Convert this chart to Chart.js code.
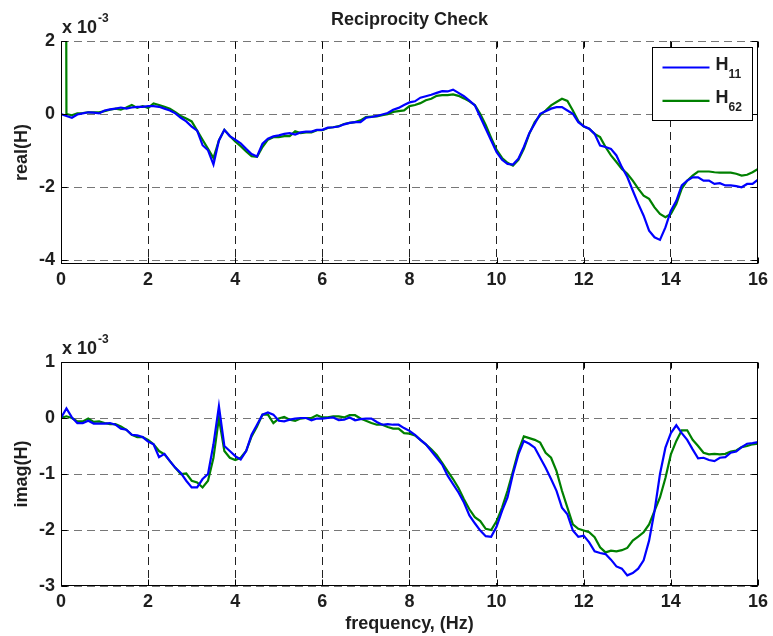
<!DOCTYPE html>
<html>
<head>
<meta charset="utf-8">
<script src="https://cdn.jsdelivr.net/npm/chart.js@4.4.1/dist/chart.umd.min.js"></script>
<style>
  html, body { margin: 0; padding: 0; background: #fff; }
  #wrap { position: relative; width: 773px; height: 636px; }
  canvas { position: absolute; left: 0; }
  #real { top: 0; }
  #imag { top: 300px; }
</style>
</head>
<body>
<div id="wrap">
  <canvas id="real" width="773" height="300"></canvas>
  <canvas id="imag" width="773" height="336"></canvas>
</div>
<script>
// frequency axis, Hz
const freq = [
  0, 0.125, 0.25, 0.375, 0.5, 0.625, 0.75, 0.875,
  1, 1.125, 1.25, 1.375, 1.5, 1.625, 1.75, 1.875,
  2, 2.125, 2.25, 2.375, 2.5, 2.625, 2.75, 2.875,
  3, 3.125, 3.25, 3.375, 3.5, 3.625, 3.75, 3.875,
  4, 4.125, 4.25, 4.375, 4.5, 4.625, 4.75, 4.875,
  5, 5.125, 5.25, 5.375, 5.5, 5.625, 5.75, 5.875,
  6, 6.125, 6.25, 6.375, 6.5, 6.625, 6.75, 6.875,
  7, 7.125, 7.25, 7.375, 7.5, 7.625, 7.75, 7.875,
  8, 8.125, 8.25, 8.375, 8.5, 8.625, 8.75, 8.875,
  9, 9.125, 9.25, 9.375, 9.5, 9.625, 9.75, 9.875,
  10, 10.125, 10.25, 10.375, 10.5, 10.625, 10.75, 10.875,
  11, 11.125, 11.25, 11.375, 11.5, 11.625, 11.75, 11.875,
  12, 12.125, 12.25, 12.375, 12.5, 12.625, 12.75, 12.875,
  13, 13.125, 13.25, 13.375, 13.5, 13.625, 13.75, 13.875,
  14, 14.125, 14.25, 14.375, 14.5, 14.625, 14.75, 14.875,
  15, 15.125, 15.25, 15.375, 15.5, 15.625, 15.75, 15.875,
  16
]

// values in units of 1e-3
const realH11 = [
  0, -0.05, -0.1, -0.01, 0.02, 0.05, 0.04, 0.02,
  0.1, 0.13, 0.15, 0.18, 0.15, 0.18, 0.2, 0.2,
  0.22, 0.22, 0.2, 0.15, 0.1, 0.02, -0.1, -0.2,
  -0.34, -0.45, -0.85, -0.99, -1.38, -0.72, -0.43, -0.6,
  -0.7, -0.8, -0.95, -1.09, -1.16, -0.81, -0.67, -0.61,
  -0.58, -0.54, -0.52, -0.56, -0.5, -0.48, -0.48, -0.43,
  -0.43, -0.37, -0.36, -0.34, -0.28, -0.24, -0.22, -0.22,
  -0.1, -0.08, -0.05, -0.01, 0.03, 0.12, 0.17, 0.25,
  0.32, 0.35, 0.45, 0.49, 0.53, 0.58, 0.63, 0.62,
  0.67, 0.58, 0.49, 0.37, 0.24, -0.08, -0.4, -0.72,
  -1.04, -1.25, -1.36, -1.38, -1.22, -0.9, -0.52, -0.26,
  0.01, 0.08, 0.15, 0.19, 0.19, 0.1, 0.01, -0.22,
  -0.33, -0.4, -0.54, -0.86, -0.9, -0.95, -1.13, -1.45,
  -1.72, -2.09, -2.45, -2.78, -3.19, -3.37, -3.44, -3.1,
  -2.64, -2.37, -1.95, -1.82, -1.73, -1.73, -1.82, -1.82,
  -1.91, -1.89, -1.95, -1.95, -1.97, -2.0, -1.91, -1.91,
  -1.79
]
const realH62 = [
  60, 0, -0.03, 0.02, 0.03, 0.05, 0.05, 0.05,
  0.08, 0.12, 0.15, 0.12, 0.18, 0.25, 0.17, 0.22,
  0.17, 0.29, 0.25, 0.2, 0.15, 0.05, -0.05, -0.12,
  -0.2, -0.45, -0.7, -0.95, -1.2, -0.72, -0.43, -0.6,
  -0.75, -0.88, -1.02, -1.15, -1.17, -0.9, -0.7, -0.63,
  -0.63, -0.6, -0.6, -0.47, -0.52, -0.5, -0.5, -0.44,
  -0.44, -0.38, -0.36, -0.33, -0.27, -0.24, -0.22, -0.17,
  -0.08, -0.07, -0.06, -0.03, 0, 0.06, 0.08, 0.1,
  0.22, 0.25, 0.3, 0.38, 0.42, 0.5, 0.52, 0.52,
  0.54, 0.5, 0.43, 0.35, 0.25, 0, -0.3, -0.65,
  -0.98, -1.2, -1.33, -1.41, -1.25, -0.95, -0.54, -0.22,
  -0.03, 0.1, 0.24, 0.33, 0.42, 0.36, 0.1, -0.19,
  -0.34, -0.4, -0.54, -0.63, -0.9, -1.13, -1.31, -1.5,
  -1.63, -1.82, -2.04, -2.23, -2.32, -2.55, -2.73, -2.82,
  -2.73, -2.46, -2.04, -1.82, -1.68, -1.57, -1.57, -1.57,
  -1.59, -1.6, -1.6, -1.6, -1.63, -1.68, -1.66, -1.59,
  -1.5
]
const imagH11 = [
  0, 0.17, 0.01, -0.09, -0.09, -0.05, -0.1, -0.1,
  -0.1, -0.09, -0.12, -0.19, -0.21, -0.3, -0.31, -0.34,
  -0.42, -0.47, -0.7, -0.64, -0.77, -0.89, -0.98, -1.12,
  -1.24, -1.24, -1.09, -1.0, -0.47, 0.21, -0.5, -0.59,
  -0.68, -0.74, -0.59, -0.3, -0.12, 0.06, 0.1, 0.06,
  -0.05, -0.06, -0.03, -0.01, 0, 0, -0.04, -0.01,
  -0.01, 0, 0.01, -0.04, -0.03, 0.01, -0.04, -0.02,
  -0.01, -0.01, -0.07, -0.12, -0.11, -0.12, -0.12, -0.18,
  -0.23, -0.3, -0.39, -0.47, -0.59, -0.71, -0.83, -1.03,
  -1.18, -1.33, -1.51, -1.74, -1.88, -2.01, -2.11, -2.12,
  -1.94, -1.66, -1.42, -1.0, -0.65, -0.41, -0.46, -0.53,
  -0.71, -0.89, -1.09, -1.3, -1.6, -1.72, -2.01, -2.12,
  -2.1, -2.22, -2.38, -2.41, -2.43, -2.53, -2.65, -2.69,
  -2.81, -2.77, -2.69, -2.54, -2.19, -1.66, -1.0, -0.53,
  -0.27, -0.13, -0.27, -0.39, -0.56, -0.72, -0.71, -0.75,
  -0.77, -0.71, -0.7, -0.62, -0.6, -0.52, -0.46, -0.45,
  -0.43
]
const imagH62 = [
  0, 0.03, 0, -0.06, -0.06, -0.01, -0.07, -0.06,
  -0.09, -0.11, -0.11, -0.15, -0.21, -0.3, -0.34, -0.34,
  -0.39, -0.47, -0.59, -0.65, -0.77, -0.89, -1.0, -0.99,
  -1.12, -1.15, -1.24, -1.12, -0.71, 0, -0.59, -0.71,
  -0.75, -0.71, -0.59, -0.33, -0.15, 0.06, 0.06, -0.09,
  -0.01, 0.02, -0.03, -0.05, -0.01, 0, 0, 0.05,
  0.01, 0.01, 0.03, 0.03, 0.01, 0.05, 0.05, -0.01,
  -0.05, -0.09, -0.12, -0.12, -0.16, -0.19, -0.19, -0.27,
  -0.28, -0.31, -0.39, -0.47, -0.56, -0.66, -0.8, -0.95,
  -1.09, -1.25, -1.45, -1.63, -1.77, -1.84, -1.98, -2.0,
  -1.84, -1.6, -1.3, -0.95, -0.59, -0.33, -0.36, -0.39,
  -0.44, -0.62, -0.71, -0.95, -1.3, -1.6, -1.9, -1.98,
  -2.01, -2.04, -2.13, -2.31, -2.4, -2.37, -2.38, -2.36,
  -2.32, -2.19, -2.12, -2.04, -1.9, -1.66, -1.42, -1.07,
  -0.65, -0.41, -0.22, -0.22, -0.39, -0.5, -0.62, -0.65,
  -0.64, -0.65, -0.64, -0.6, -0.58, -0.52, -0.5, -0.47,
  -0.46
]

const xTicks = [0, 2, 4, 6, 8, 10, 12, 14, 16]
const realTicks = [-4, -2, 0, 2]
const imagTicks = [-3, -2, -1, 0, 1]
const seriesSubs = ['11', '62']

const FONT = "'Liberation Sans', Arial, Helvetica, sans-serif"
const TXT = '#1e1e1e'
const BLUE = '#0000ff'
const GREEN = '#008000'

function pts(ys) {
    return freq.map((f, i) => ({ x: f, y: ys[i] }))
}

// matlab style box, inward ticks, exponent label and legend
const matlabFrame = {
    id: 'matlabFrame',
    afterDraw(chart, args, opts) {
        const { ctx, chartArea: a } = chart
        const sx = chart.scales.x, sy = chart.scales.y
        const L = Math.round(a.left) + 0.5, R = Math.round(a.right) - 0.5
        const T = Math.round(a.top) + 0.5, B = Math.round(a.bottom) - 0.5
        ctx.save()
        ctx.strokeStyle = '#000'
        ctx.lineWidth = 1
        ctx.beginPath()
        ctx.moveTo(L, T); ctx.lineTo(L, B); ctx.lineTo(R, B); ctx.lineTo(R, T)
        if (opts.topBorder) ctx.lineTo(L, T)
        ctx.stroke()
        ctx.beginPath()
        sx.ticks.forEach(t => {
            const p = Math.round(sx.getPixelForValue(t.value)) + 0.5
            ctx.moveTo(p, B); ctx.lineTo(p, B - 6)
            ctx.moveTo(p, T); ctx.lineTo(p, T + 6)
        })
        sy.ticks.forEach(t => {
            const p = Math.round(sy.getPixelForValue(t.value)) + 0.5
            ctx.moveTo(L, p); ctx.lineTo(L + 6, p)
            ctx.moveTo(R, p); ctx.lineTo(R - 6, p)
        })
        ctx.stroke()

        ctx.fillStyle = TXT
        ctx.textBaseline = 'alphabetic'
        ctx.textAlign = 'left'
        ctx.font = 'bold 18px ' + FONT
        ctx.fillText('x 10', a.left + 1, a.top - 8)
        const w = ctx.measureText('x 10').width
        ctx.font = 'bold 12px ' + FONT
        ctx.fillText('-3', a.left + 2 + w, a.top - 19)

        if (opts.legend) {
            const bw = 100, bh = 73
            const bx = Math.round(a.right - 6 - bw) + 0.5, by = Math.round(a.top + 6) + 0.5
            ctx.fillStyle = '#fff'
            ctx.fillRect(bx, by, bw, bh)
            ctx.strokeStyle = '#000'
            ctx.strokeRect(bx, by, bw, bh)
            chart.data.datasets.forEach((ds, i) => {
                const ly = by + 20 + i * 33.3
                ctx.strokeStyle = ds.borderColor
                ctx.lineWidth = 2.2
                ctx.beginPath()
                ctx.moveTo(bx + 10, ly); ctx.lineTo(bx + 57, ly)
                ctx.stroke()
                ctx.fillStyle = TXT
                ctx.font = 'bold 18px ' + FONT
                ctx.fillText('H', bx + 63, ly + 2)
                const hw = ctx.measureText('H').width
                ctx.font = 'bold 12px ' + FONT
                ctx.fillText(seriesSubs[i], bx + 63 + hw, ly + 10)
            })
        }
        ctx.restore()
    }
}

function makeChart(id, h11, h62, yMin, yMax, yTicks, yTitle, extra) {
    const ctx = document.getElementById(id).getContext('2d')
    return new Chart(ctx, {
        type: 'line',
        data: {
            datasets: [
                { label: 'H11', data: pts(h11), borderColor: BLUE, borderWidth: 2.2, pointRadius: 0, tension: 0 },
                { label: 'H62', data: pts(h62), borderColor: GREEN, borderWidth: 2.2, pointRadius: 0, tension: 0 }
            ]
        },
        options: {
            responsive: false,
            animation: false,
            events: [],
            layout: { padding: extra.padding },
            plugins: {
                legend: { display: false },
                tooltip: { enabled: false },
                title: extra.title,
                matlabFrame: { legend: extra.legend, topBorder: extra.topBorder }
            },
            scales: {
                x: {
                    type: 'linear',
                    min: 0,
                    max: 16,
                    afterBuildTicks: s => { s.ticks = xTicks.map(v => ({ value: v })) },
                    afterFit: s => { s.height = extra.xHeight },
                    grid: { color: '#222', lineWidth: 1, drawTicks: false },
                    border: { display: false, dash: [8, 5] },
                    ticks: {
                        color: TXT, padding: extra.xPad, maxRotation: 0, autoSkip: false,
                        font: { family: FONT, size: 18, weight: 'bold' }
                    },
                    title: extra.xTitle
                },
                y: {
                    min: yMin,
                    max: yMax,
                    afterBuildTicks: s => { s.ticks = yTicks.map(v => ({ value: v })) },
                    afterFit: s => { s.width = 61 },
                    grid: { color: '#777', lineWidth: 1, drawTicks: false },
                    border: { display: false, dash: [8, 5] },
                    ticks: {
                        color: TXT, padding: 6,
                        font: { family: FONT, size: 18, weight: 'bold' }
                    },
                    title: {
                        display: true, text: yTitle, color: TXT,
                        padding: { top: 11, bottom: 0 },
                        font: { family: FONT, size: 18, weight: 'bold' }
                    }
                }
            }
        },
        plugins: [matlabFrame]
    })
}

makeChart('real', realH11, realH62, -4.1, 2, realTicks, 'real(H)', {
    padding: { top: 0, right: 11, bottom: 0, left: 0 },
    title: {
        display: true, text: 'Reciprocity Check', color: TXT, fullSize: false,
        padding: { top: 9, bottom: 10.4 },
        font: { family: FONT, size: 18, weight: 'bold' }
    },
    legend: true,
    topBorder: false,
    xHeight: 36,
    xPad: 5,
    xTitle: { display: false }
})

makeChart('imag', imagH11, imagH62, -3, 1, imagTicks, 'imag(H)', {
    padding: { top: 62, right: 11, bottom: 0, left: 0 },
    title: { display: false },
    legend: false,
    topBorder: true,
    xHeight: 50,
    xPad: 5,
    xTitle: {
        display: true, text: 'frequency, (Hz)', color: TXT,
        padding: { top: 0, bottom: 1 },
        font: { family: FONT, size: 18, weight: 'bold' }
    }
})
</script>
</body>
</html>
